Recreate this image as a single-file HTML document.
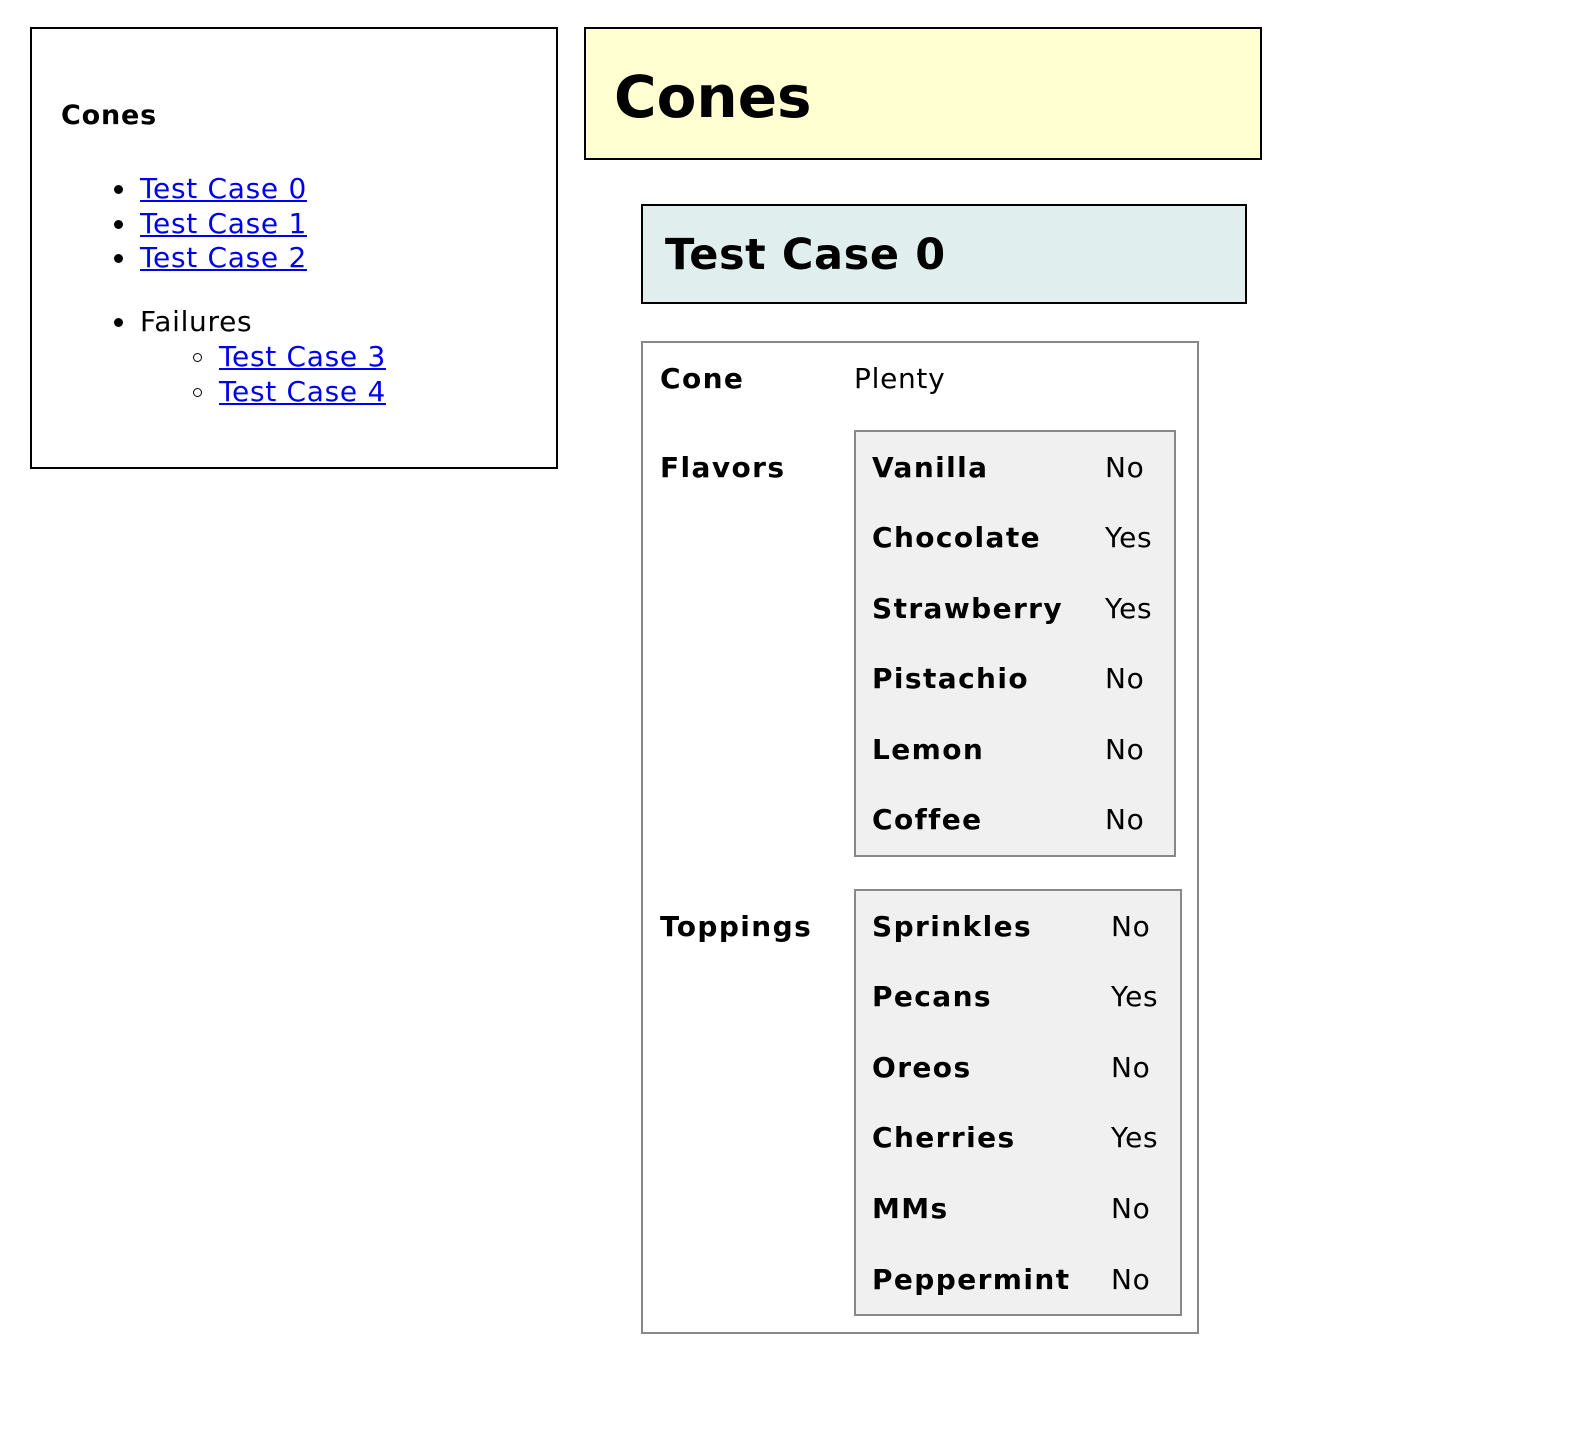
<!DOCTYPE html>
<html><head><meta charset="utf-8"><style>
body{margin:0;width:1578px;height:1444px;background:#fff;font-family:"DejaVu Sans","Liberation Sans",sans-serif;color:#000;position:relative;overflow:hidden}
.a{position:absolute;white-space:nowrap;line-height:40px;font-size:28px;letter-spacing:0.7px}
.b{font-weight:bold;letter-spacing:1.4px}
.l{color:#00e;text-decoration:underline}
.box{position:absolute;box-sizing:border-box}
.dot{position:absolute;width:9px;height:9px;border-radius:50%;background:#000}
.cir{position:absolute;width:9px;height:9px;border-radius:50%;border:1.5px solid #000;box-sizing:border-box}
</style></head><body>
<div class="box" style="left:30px;top:27px;width:528px;height:442px;border:2px solid #000"></div>
<div class="a b" style="left:61px;top:96px;font-size:27px;letter-spacing:0.8px">Cones</div>
<div class="dot" style="left:114px;top:185px"></div><div class="a l" style="left:140px;top:169px">Test Case 0</div>
<div class="dot" style="left:114px;top:220px"></div><div class="a l" style="left:140px;top:204px">Test Case 1</div>
<div class="dot" style="left:114px;top:254px"></div><div class="a l" style="left:140px;top:238px">Test Case 2</div>
<div class="dot" style="left:114px;top:318px"></div><div class="a" style="left:140px;top:302px">Failures</div>
<div class="cir" style="left:193px;top:353px"></div><div class="a l" style="left:219px;top:337px">Test Case 3</div>
<div class="cir" style="left:193px;top:388px"></div><div class="a l" style="left:219px;top:372px">Test Case 4</div>

<div class="box" style="left:584px;top:27px;width:678px;height:133px;border:2px solid #000;background:#ffffd2"></div>
<div class="a b" style="left:614px;top:62px;font-size:58px;line-height:70px;letter-spacing:0">Cones</div>

<div class="box" style="left:641px;top:204px;width:606px;height:100px;border:2px solid #000;background:#e0eeee"></div>
<div class="a b" style="left:665px;top:230px;font-size:43px;line-height:50px;letter-spacing:0.6px">Test Case 0</div>

<div class="box" style="left:641px;top:341px;width:558px;height:993px;border:2px solid #888"></div>
<div class="a b" style="left:660px;top:359px">Cone</div>
<div class="a" style="left:854px;top:359px">Plenty</div>
<div class="a b" style="left:660px;top:448px">Flavors</div>
<div class="a b" style="left:660px;top:907px">Toppings</div>

<div class="box" style="left:854px;top:430px;width:322px;height:427px;border:2px solid #888;background:#f0f0f0"></div>
<div class="a b" style="left:872px;top:448px">Vanilla</div><div class="a" style="left:1105px;top:448px">No</div>
<div class="a b" style="left:872px;top:518px">Chocolate</div><div class="a" style="left:1105px;top:518px">Yes</div>
<div class="a b" style="left:872px;top:589px">Strawberry</div><div class="a" style="left:1105px;top:589px">Yes</div>
<div class="a b" style="left:872px;top:659px">Pistachio</div><div class="a" style="left:1105px;top:659px">No</div>
<div class="a b" style="left:872px;top:730px">Lemon</div><div class="a" style="left:1105px;top:730px">No</div>
<div class="a b" style="left:872px;top:800px">Coffee</div><div class="a" style="left:1105px;top:800px">No</div>

<div class="box" style="left:854px;top:889px;width:328px;height:427px;border:2px solid #888;background:#f0f0f0"></div>
<div class="a b" style="left:872px;top:907px">Sprinkles</div><div class="a" style="left:1111px;top:907px">No</div>
<div class="a b" style="left:872px;top:977px">Pecans</div><div class="a" style="left:1111px;top:977px">Yes</div>
<div class="a b" style="left:872px;top:1048px">Oreos</div><div class="a" style="left:1111px;top:1048px">No</div>
<div class="a b" style="left:872px;top:1118px">Cherries</div><div class="a" style="left:1111px;top:1118px">Yes</div>
<div class="a b" style="left:872px;top:1189px">MMs</div><div class="a" style="left:1111px;top:1189px">No</div>
<div class="a b" style="left:872px;top:1260px">Peppermint</div><div class="a" style="left:1111px;top:1260px">No</div>
</body></html>
